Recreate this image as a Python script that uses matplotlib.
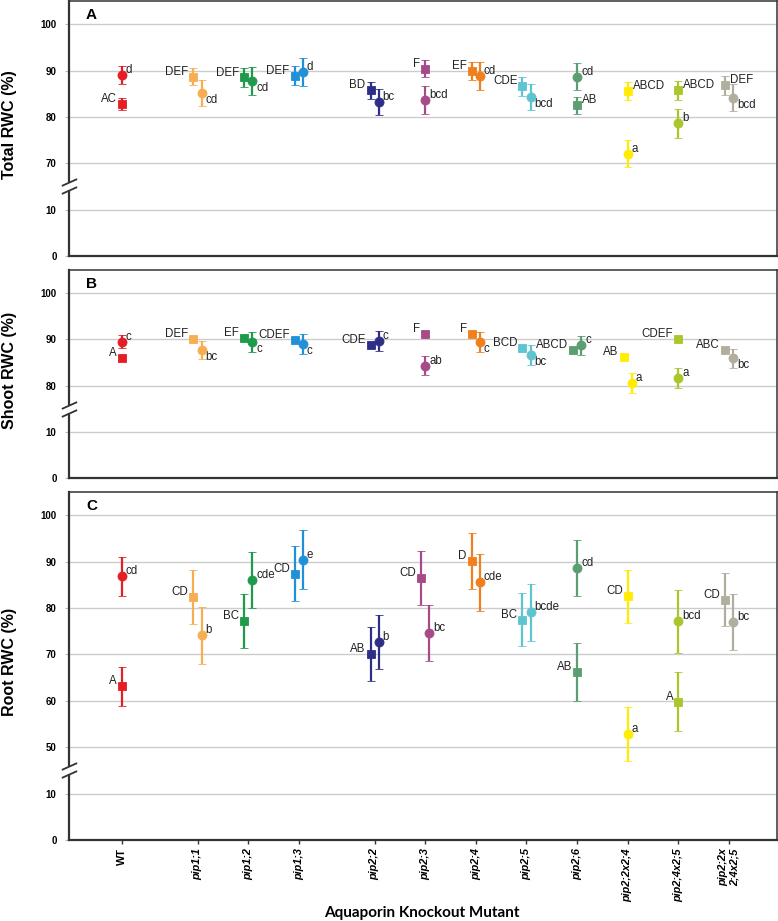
import numpy as np
import matplotlib.pyplot as plt
from matplotlib.path import Path

plt.rcParams['font.family'] = 'Liberation Sans'

# genotypes on the x axis (gap after WT and after pip1;3)
genotypes = ['WT', 'pip1;1', 'pip1;2', 'pip1;3', 'pip2;2', 'pip2;3', 'pip2;4',
             'pip2;5', 'pip2;6', 'pip2;2x2;4', 'pip2;4x2;5', 'pip2;2x\n2;4x2;5']
xpos = [0, 1.5, 2.5, 3.5, 5, 6, 7, 8, 9, 10, 11, 12]
colors = ['#e31e24', '#f7ae50', '#1e9a4a', '#2091d8', '#2e2e88', '#a64b87',
          '#f07f1e', '#5ec4d0', '#5a9e72', '#ffec00', '#a9c62a', '#b2ae9e']

# Total RWC
sq_total = [82.8, 88.7, 88.5, 88.9, 85.7, 90.4, 89.9, 86.6, 82.5, 85.6, 85.7, 86.8]
sq_total_err = [1.3, 1.9, 2.0, 2.0, 1.9, 1.8, 1.9, 2.0, 1.9, 1.9, 2.1, 2.0]
ci_total = [89.0, 85.1, 87.7, 89.7, 83.3, 83.7, 88.9, 84.3, 88.7, 72.1, 78.6, 84.1]
ci_total_err = [2.0, 2.8, 3.0, 3.0, 2.8, 3.0, 3.0, 2.9, 2.9, 3.0, 3.1, 2.9]
sq_total_let = ['AC', 'DEF', 'DEF', 'DEF', 'BD', 'F', 'EF', 'CDE', 'AB', 'ABCD', 'ABCD', 'DEF']
ci_total_let = ['d', 'cd', 'cd', 'd', 'bc', 'bcd', 'cd', 'bcd', 'cd', 'a', 'b', 'bcd']

# Shoot RWC
sq_shoot = [85.9, 90.1, 90.3, 89.75, 88.7, 91.1, 91.1, 88.2, 87.8, 86.1, 90.0, 87.8]
sq_shoot_err = [0.4] * 12
ci_shoot = [89.5, 87.7, 89.4, 88.9, 89.6, 84.3, 89.5, 86.7, 88.7, 80.5, 81.6, 85.9]
ci_shoot_err = [1.45, 2.0, 2.2, 2.15, 2.15, 2.05, 2.15, 2.15, 2.05, 2.15, 2.2, 2.1]
sq_shoot_let = ['A', 'DEF', 'EF', 'CDEF', 'CDE', 'F', 'F', 'BCD', 'ABCD', 'AB', 'CDEF', 'ABC']
ci_shoot_let = ['c', 'bc', 'c', 'c', 'c', 'ab', 'c', 'bc', 'c', 'a', 'a', 'bc']

# Root RWC
sq_root = [63.1, 82.4, 77.2, 87.4, 70.1, 86.5, 90.1, 77.5, 66.1, 82.5, 59.8, 81.8]
sq_root_err = [4.15, 5.75, 5.9, 5.9, 5.8, 5.75, 6.1, 5.75, 6.25, 5.75, 6.3, 5.75]
ci_root = [86.8, 74.1, 86.1, 90.4, 72.6, 74.7, 85.5, 79.1, 88.6, 52.8, 77.1, 76.9]
ci_root_err = [4.25, 6.1, 6.05, 6.4, 5.85, 6.05, 6.05, 6.15, 6.05, 5.8, 6.7, 6.05]
sq_root_let = ['A', 'CD', 'BC', 'CD', 'AB', 'CD', 'D', 'BC', 'AB', 'CD', 'A', 'CD']
ci_root_let = ['cd', 'b', 'cde', 'e', 'b', 'bc', 'cde', 'bcde', 'cd', 'a', 'bcd', 'bc']

W, H = 778, 921
fig = plt.figure(figsize=(W / 100, H / 100), dpi=100)


def broken_scale(shift):
    lo = 15 + shift

    def fwd(v):
        v = np.asarray(v, dtype=float)
        return np.where(v <= 15, v, np.where(v >= lo, v - shift, 15.0))

    def inv(d):
        d = np.asarray(d, dtype=float)
        return np.where(d <= 15, d, d + shift)
    return fwd, inv


panels = [
    dict(top=1, bottom=256, shift=50, ticks=[0, 10, 70, 80, 90, 100], name='A',
         ylabel='Total RWC (%)', sq=(sq_total, sq_total_err, sq_total_let),
         ci=(ci_total, ci_total_err, ci_total_let),
         dodge={1, 2, 3, 4, 6, 7, 11}, sq_right={8, 9, 10, 11}, below={1, 2, 7, 11}),
    dict(top=270, bottom=478, shift=60, ticks=[0, 10, 80, 90, 100], name='B',
         ylabel='Shoot RWC (%)', sq=(sq_shoot, sq_shoot_err, sq_shoot_let),
         ci=(ci_shoot, ci_shoot_err, ci_shoot_let),
         dodge={1, 2, 3, 4, 6, 7, 8, 9, 11}, sq_right=set(), below={1, 2, 3, 6, 7, 11}),
    dict(top=492, bottom=840, shift=30, ticks=[0, 10, 50, 60, 70, 80, 90, 100], name='C',
         ylabel='Root RWC (%)', sq=(sq_root, sq_root_err, sq_root_let),
         ci=(ci_root, ci_root_err, ci_root_let),
         dodge={1, 2, 3, 4, 5, 6, 7, 11}, sq_right=set(), below=set()),
]

d = 0.08
lab = dict(fontsize=8.3, color='#222222')
for k, p in enumerate(panels):
    h = p['bottom'] - p['top']
    ax = fig.add_axes([69 / W, 1 - p['bottom'] / H, 708 / W, h / H])
    ax.set_yscale('function', functions=broken_scale(p['shift']))
    ax.set_ylim(0, 105)
    ax.set_xlim(-1.04, 12.95)
    ax.set_yticks(p['ticks'])
    ax.set_yticklabels([str(t) for t in p['ticks']], fontsize=7, fontweight='bold')
    ax.tick_params(axis='y', length=3, width=0.8, color='#bbbbbb', pad=6)
    ax.yaxis.grid(True, color='#cccccc', lw=1.0)
    ax.set_axisbelow(True)
    for s in ax.spines.values():
        s.set_color('#333333')
        s.set_linewidth(1.1)
    ax.spines['left'].set_linewidth(1.6)
    ax.spines['bottom'].set_linewidth(1.6)

    sq, sq_err, sq_let = p['sq']
    ci, ci_err, ci_let = p['ci']
    for i, x in enumerate(xpos):
        off = d if i in p['dodge'] else 0
        c = colors[i]
        ax.errorbar(x - off, sq[i], yerr=sq_err[i], fmt='s', color=c, ms=5.8, mew=0.6,
                    elinewidth=1.6, capsize=3.2, capthick=1.6, zorder=3)
        ax.errorbar(x + off, ci[i], yerr=ci_err[i], fmt='o', color=c, ms=6.5, mew=0.6,
                    elinewidth=1.6, capsize=3.2, capthick=1.6, zorder=3)
        if i in p['sq_right']:
            ax.annotate(sq_let[i], (x - off, sq[i]), xytext=(5, 2), textcoords='offset pixels',
                        ha='left', va='baseline', **lab)
        else:
            ax.annotate(sq_let[i], (x - off, sq[i]), xytext=(-5, 2), textcoords='offset pixels',
                        ha='right', va='baseline', **lab)
        if i in p['below']:
            ax.annotate(ci_let[i], (x + off, ci[i]), xytext=(4, -1), textcoords='offset pixels',
                        ha='left', va='top', **lab)
        else:
            ax.annotate(ci_let[i], (x + off, ci[i]), xytext=(4, 2), textcoords='offset pixels',
                        ha='left', va='baseline', **lab)

    # axis break marks
    f = 15 / (105 - p['shift'])
    g = 4 / h
    ax.plot([0, 0], [f - g, f + g], transform=ax.transAxes, color='white', lw=3,
            clip_on=False, zorder=5, solid_capstyle='butt')
    slash = Path([(-1, -0.45), (1, 0.45)], [Path.MOVETO, Path.LINETO])
    ax.plot([0, 0], [f - g, f + g], transform=ax.transAxes, ls='none', marker=slash,
            ms=11, mec='#333333', mew=1.3, clip_on=False, zorder=6)

    ax.annotate(p['name'], xy=(0, 1), xycoords='axes fraction', xytext=(17, -14),
                textcoords='offset pixels', fontsize=11, fontweight='bold', ha='left', va='center')
    fig.text(10 / W, 1 - (p['top'] + h / 2 - 4) / H, p['ylabel'], rotation=90,
             ha='center', va='center', fontsize=11.5, fontweight='bold')

    ax.set_xticks(xpos)
    if k < 2:
        ax.tick_params(axis='x', length=0, labelbottom=False)
    else:
        ax.set_xticklabels(genotypes, rotation=90, fontsize=7.8, fontweight='bold',
                           multialignment='right')
        for t in ax.get_xticklabels()[1:]:
            t.set_fontstyle('italic')
        ax.tick_params(axis='x', length=3, width=1, color='#333333', pad=3)

fig.text(422 / W, 1 - 913 / H, 'Aquaporin Knockout Mutant', ha='center', va='center',
         fontsize=11, fontweight='bold', family='Lato')

fig.savefig('out.png', dpi=100)
